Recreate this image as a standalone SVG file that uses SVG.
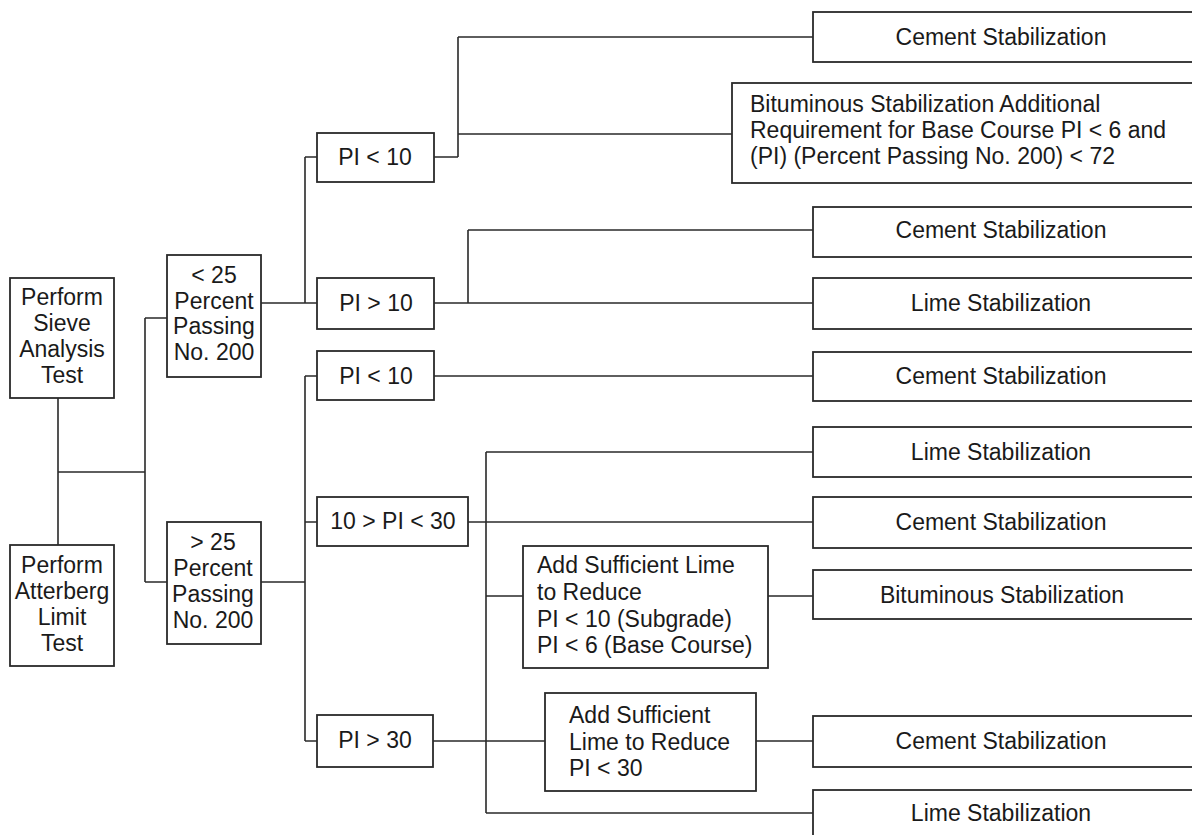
<svg xmlns="http://www.w3.org/2000/svg" width="1192" height="835" viewBox="0 0 1192 835">
<style>
rect{fill:#fff;stroke:#2a2a2a;stroke-width:1.8}
path{fill:none;stroke:#2a2a2a;stroke-width:1.6}
text{font-family:"Liberation Sans",Arial,sans-serif;font-size:23px;fill:#1a1a1a}
.c{text-anchor:middle}
</style>
<rect width="1192" height="835" style="fill:#fff;stroke:none"/>
<g id="connectors">
<path d="M58 398V545M58 472H145M145 318V582M145 318H167M145 582H167"/>
<path d="M261 303H305M305 157V303M305 157H317M305 303H317"/>
<path d="M261 582H305M305 376V741M305 376H317M305 522H317M305 741H317"/>
<path d="M434 157H458M458 37V157M458 37H813M458 134H732"/>
<path d="M434 303H813M468 230V303M468 230H813"/>
<path d="M434 376H813"/>
<path d="M468 522H813"/>
<path d="M486 452V813M486 452H813M486 813H813M486 596H523M768 596H813"/>
<path d="M433 741H545M756 741H813"/>
</g>
<g id="sieve"><rect x="10" y="278" width="104" height="120"/>
<text class="c" x="62" y="305">Perform</text><text class="c" x="62" y="331">Sieve</text><text class="c" x="62" y="357">Analysis</text><text class="c" x="62" y="383">Test</text></g>
<g id="atterberg"><rect x="10" y="545" width="104" height="121"/>
<text class="c" x="62" y="573">Perform</text><text class="c" x="62" y="599">Atterberg</text><text class="c" x="62" y="625">Limit</text><text class="c" x="62" y="651">Test</text></g>
<g id="lt25"><rect x="167" y="255" width="94" height="122"/>
<text class="c" x="214" y="283">&lt; 25</text><text class="c" x="214" y="309">Percent</text><text class="c" x="214" y="334">Passing</text><text class="c" x="214" y="360">No. 200</text></g>
<g id="gt25"><rect x="167" y="522" width="94" height="122"/>
<text class="c" x="213" y="550">&gt; 25</text><text class="c" x="213" y="576">Percent</text><text class="c" x="213" y="602">Passing</text><text class="c" x="213" y="628">No. 200</text></g>
<g id="pi_lt10_a"><rect x="317" y="133" width="117" height="49"/><text class="c" x="375" y="165">PI &lt; 10</text></g>
<g id="pi_gt10"><rect x="317" y="278" width="117" height="51"/><text class="c" x="376" y="311">PI  &gt; 10</text></g>
<g id="pi_lt10_b"><rect x="317" y="351" width="117" height="49"/><text class="c" x="376" y="384">PI  &lt; 10</text></g>
<g id="pi_10_30"><rect x="317" y="497" width="151" height="49"/><text class="c" x="393" y="529">10 &gt; PI &lt; 30</text></g>
<g id="pi_gt30"><rect x="317" y="715" width="116" height="52"/><text class="c" x="375" y="748">PI &gt; 30</text></g>
<g id="add_lime_1"><rect x="523" y="546" width="245" height="122"/>
<text x="537" y="573">Add Sufficient Lime</text><text x="537" y="600">to Reduce</text><text x="537" y="627">PI &lt; 10 (Subgrade)</text><text x="537" y="653">PI &lt; 6 (Base Course)</text></g>
<g id="add_lime_2"><rect x="545" y="693" width="211" height="98"/>
<text x="569" y="723">Add Sufficient</text><text x="569" y="750">Lime to Reduce</text><text x="569" y="776">PI &lt; 30</text></g>
<g id="bit_req"><rect x="732" y="83" width="470" height="100"/>
<text x="750" y="112">Bituminous Stabilization Additional</text><text x="750" y="138">Requirement for Base Course PI &lt; 6 and</text><text x="750" y="164">(PI) (Percent Passing No. 200) &lt; 72</text></g>
<g id="cement1"><rect x="813" y="12" width="400" height="50"/><text class="c" x="1001" y="45">Cement Stabilization</text></g>
<g id="cement2"><rect x="813" y="207" width="400" height="50"/><text class="c" x="1001" y="238">Cement Stabilization</text></g>
<g id="lime1"><rect x="813" y="278" width="400" height="51"/><text class="c" x="1001" y="311">Lime Stabilization</text></g>
<g id="cement3"><rect x="813" y="352" width="400" height="49"/><text class="c" x="1001" y="384">Cement Stabilization</text></g>
<g id="lime2"><rect x="813" y="427" width="400" height="50"/><text class="c" x="1001" y="460">Lime Stabilization</text></g>
<g id="cement4"><rect x="813" y="497" width="400" height="51"/><text class="c" x="1001" y="530">Cement Stabilization</text></g>
<g id="bitum"><rect x="813" y="570" width="400" height="49"/><text class="c" x="1002" y="603">Bituminous Stabilization</text></g>
<g id="cement5"><rect x="813" y="716" width="400" height="51"/><text class="c" x="1001" y="749">Cement Stabilization</text></g>
<g id="lime3"><rect x="813" y="790" width="400" height="50"/><text class="c" x="1001" y="821">Lime Stabilization</text></g>
</svg>
